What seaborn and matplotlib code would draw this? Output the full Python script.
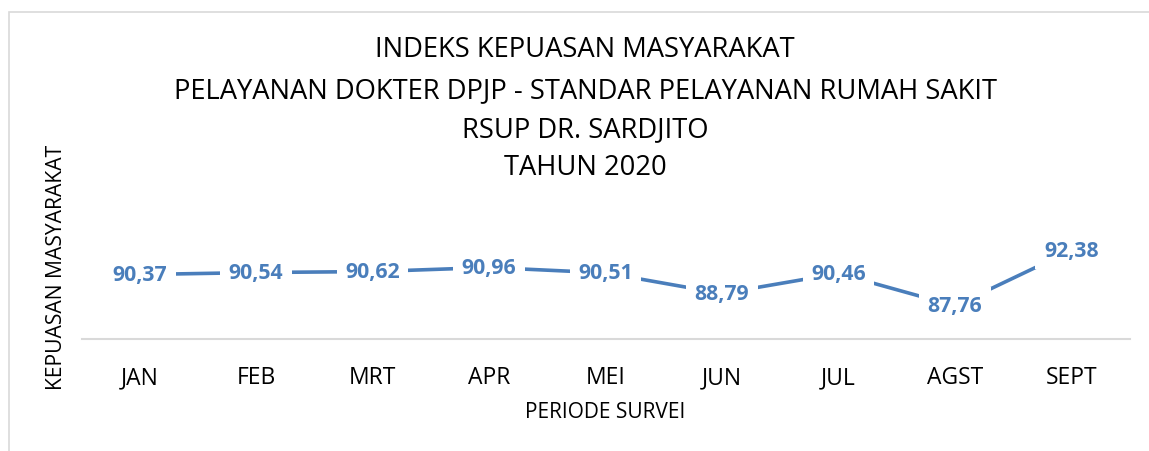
import matplotlib
matplotlib.use("Agg")
import matplotlib.pyplot as plt
import seaborn as sns
import pandas as pd
from matplotlib.patches import Rectangle

months = ["JAN", "FEB", "MRT", "APR", "MEI", "JUN", "JUL", "AGST", "SEPT"]
scores = [90.37, 90.54, 90.62, 90.96, 90.51, 88.79, 90.46, 87.76, 92.38]
title_lines = [
    "INDEKS KEPUASAN MASYARAKAT",
    "PELAYANAN DOKTER DPJP - STANDAR PELAYANAN RUMAH SAKIT",
    "RSUP DR. SARDJITO",
    "TAHUN 2020",
]
x_title = "PERIODE SURVEI"
y_title = "KEPUASAN MASYARAKAT"

sns.set_theme(style="white")
plt.rcParams["font.family"] = ["Open Sans", "DejaVu Sans"]

W, H = 1149, 452
fig = plt.figure(figsize=(W / 100, H / 100), dpi=100)
fig.patch.set_facecolor("white")

# chart-area border
fig.patches.append(Rectangle((8.5 / W, -0.1), 1.2, 1 - 12.5 / H + 0.1,
                             transform=fig.transFigure, fill=False,
                             edgecolor="#d9d9d9", linewidth=1.2))

ax = fig.add_axes([81.5 / W, 1 - 340 / H, 1048 / W, 96 / H])
df = pd.DataFrame({"idx": range(len(months)), "score": scores})
line_color = "#4a7ebb"
sns.lineplot(data=df, x="idx", y="score", ax=ax, color=line_color,
             linewidth=2.6, sort=False)

for i, v in enumerate(scores):
    ax.text(i, v, f"{v:.2f}".replace(".", ","), ha="center", va="center",
            fontsize=15.3, fontweight="bold", color=line_color,
            bbox=dict(boxstyle="square,pad=0.4", facecolor="white",
                      edgecolor="none"), zorder=5)

ax.set_xlim(-0.5, len(months) - 0.5)
ax.set_ylim(85, 93)
ax.set_xticks(range(len(months)))
ax.set_xticklabels(months, fontsize=16.5, color="black")
ax.set_yticks([])
ax.tick_params(axis="x", length=0, pad=19)
for s in ["top", "right", "left"]:
    ax.spines[s].set_visible(False)
ax.spines["bottom"].set_color("#d9d9d9")
ax.spines["bottom"].set_linewidth(1.5)
ax.set_xlabel("")
ax.set_ylabel("")

fig.text(0.5 * (81.5 + 1129.5) / W, 1 - 413 / H, x_title, ha="center",
         va="center", fontsize=15, color="black")
fig.text(57 / W, 1 - 267 / H, y_title, ha="center", va="center",
         rotation=90, fontsize=15.2, color="black")

for k, (t, yc) in enumerate(zip(title_lines, [50, 91, 130, 168])):
    fig.text(585 / W, 1 - yc / H, t, ha="center", va="center",
             fontsize=19.7, color="black")

fig.savefig("out.png", dpi=100, facecolor="white")
